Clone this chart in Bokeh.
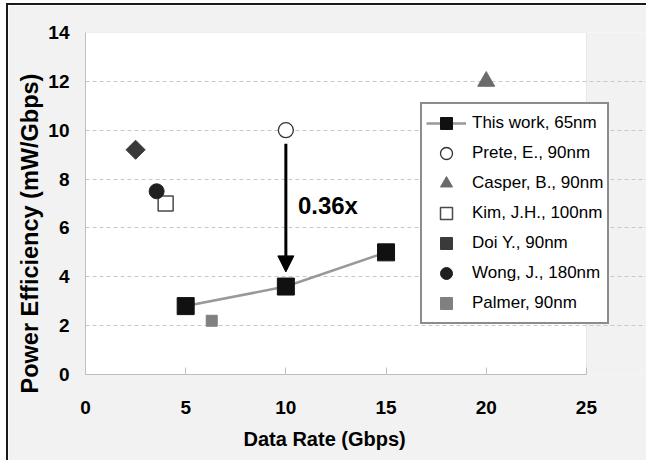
import math
from bokeh.plotting import figure
from bokeh.layouts import column
from bokeh.models import (Range1d, FixedTicker, Legend, LegendItem, Arrow, NormalHead,
                          BoxAnnotation, Label, Title)
from bokeh.embed import file_html
from bokeh.resources import INLINE

# ---- data ----
this_work_rate = [5, 10, 15]
this_work_eff = [2.8, 3.6, 5.0]
prete_rate = [10]
prete_eff = [10.0]
casper_rate = [20]
casper_eff = [12.0]
kim_rate = [4]
kim_eff = [7.0]
doi_rate = [2.5]
doi_eff = [9.2]
wong_rate = [3.55]
wong_eff = [7.5]
palmer_rate = [6.3]
palmer_eff = [2.2]

x_ticks = [0, 5, 10, 15, 20, 25]
y_ticks = [0, 2, 4, 6, 8, 10, 12, 14]
grid_ticks = [2, 4, 6, 8, 10, 12]

arrow_from = (10, 9.45)
arrow_to = (10, 4.2)
ratio_label = "0.36x"
x_title = "Data Rate (Gbps)"
y_title = "Power Efficiency (mW/Gbps)"

FONT = "Liberation Sans"
X_MAX, Y_MAX = 25, 14
X_FRAME_END = 28

# canvas origin on the page is (8, 5)
p = figure(width=638, height=455, output_backend="svg", toolbar_location=None,
           x_range=Range1d(0, X_FRAME_END), y_range=Range1d(0, Y_MAX),
           min_border_left=77, min_border_right=0, min_border_top=27, min_border_bottom=86,
           background_fill_color="#f2f2f2", border_fill_color="#f2f2f2")
p.outline_line_color = None

# axes
p.xaxis.ticker = FixedTicker(ticks=x_ticks)
p.yaxis.ticker = FixedTicker(ticks=y_ticks)
p.xaxis.bounds = (0, X_MAX)
for ax in (p.xaxis[0], p.yaxis[0]):
    ax.axis_line_color = "#bfbfbf"
    ax.major_label_text_font = FONT
    ax.major_label_text_font_style = "bold"
    ax.major_label_text_font_size = "19px"
    ax.major_label_text_color = "#000000"
    ax.minor_tick_line_color = None
p.xaxis.major_tick_in = 7
p.xaxis.major_tick_out = 0
p.xaxis.major_tick_line_color = "#bfbfbf"
p.xaxis.major_label_standoff = 26
p.yaxis.major_tick_line_color = None
p.yaxis.major_tick_in = 0
p.yaxis.major_tick_out = 0
p.yaxis.major_label_standoff = 16

# white plot area with light border (frame is extended to the right so the legend is not clipped)
p.add_layout(BoxAnnotation(left=0, right=X_MAX, bottom=0, top=Y_MAX, fill_color="white",
                           fill_alpha=1, line_color="#bfbfbf", line_width=1, level="image"))

p.xgrid.grid_line_color = None
p.ygrid.ticker = FixedTicker(ticks=grid_ticks)
p.ygrid.grid_line_color = "#c8c8c8"
p.ygrid.grid_line_dash = "4 3"
p.ygrid.grid_line_width = 1
p.ygrid.bounds = (0, X_MAX)

# axis titles
p.add_layout(Title(text=x_title, align="left", offset=158, standoff=18,
                   text_font=FONT, text_font_style="bold", text_font_size="20px",
                   text_color="black"), "below")
p.add_layout(Title(text=y_title, align="left", offset=-19, standoff=6,
                   text_font=FONT, text_font_style="bold", text_font_size="23.5px",
                   text_color="black"), "left")

# series
tw_line = p.line(this_work_rate, this_work_eff, line_color="#999999", line_width=2.5)
tw_pts = p.scatter(this_work_rate, this_work_eff, marker="square", size=17,
                   fill_color="#111111", line_color="#111111")
prete = p.scatter(prete_rate, prete_eff, marker="circle", size=15,
                  fill_color="white", line_color="#333333", line_width=1.3)
casper = p.scatter(casper_rate, casper_eff, marker="triangle", size=17,
                   fill_color="#6b6b6b", line_color="#6b6b6b")
kim = p.scatter(kim_rate, kim_eff, marker="square", size=15,
                fill_color="white", line_color="#4a4a4a", line_width=1.5)
doi = p.scatter(doi_rate, doi_eff, marker="square", size=13.5, angle=math.pi / 4,
                fill_color="#3a3a3a", line_color="#3a3a3a")
wong = p.scatter(wong_rate, wong_eff, marker="circle", size=15,
                 fill_color="#1f1f1f", line_color="#1f1f1f")
palmer = p.scatter(palmer_rate, palmer_eff, marker="square", size=11,
                   fill_color="#808080", line_color="#808080")

# arrow + label
p.add_layout(Arrow(x_start=arrow_from[0], y_start=arrow_from[1], x_end=arrow_to[0], y_end=arrow_to[1],
                   line_color="black", line_width=3,
                   end=NormalHead(size=16, fill_color="black", line_color="black")))
p.add_layout(Label(x=10.6, y=6.9, text=ratio_label, text_font=FONT, text_font_style="bold",
                   text_font_size="24px", text_baseline="middle", text_align="left",
                   text_color="black"))

legend = Legend(items=[
    LegendItem(label="This work, 65nm", renderers=[tw_line, tw_pts]),
    LegendItem(label="Prete, E., 90nm", renderers=[prete]),
    LegendItem(label="Casper, B., 90nm", renderers=[casper]),
    LegendItem(label="Kim, J.H., 100nm", renderers=[kim]),
    LegendItem(label="Doi Y., 90nm", renderers=[doi]),
    LegendItem(label="Wong, J., 180nm", renderers=[wong]),
    LegendItem(label="Palmer, 90nm", renderers=[palmer]),
], location=(335, 50))
legend.border_line_color = "#1a1a1a"
legend.border_line_width = 2
legend.background_fill_color = "white"
legend.background_fill_alpha = 1
legend.padding = 4
legend.spacing = 0
legend.glyph_height = 30
legend.label_height = 30
legend.glyph_width = 40
legend.label_standoff = 6
legend.label_text_font = FONT
legend.label_text_font_size = "17px"
legend.label_text_color = "#000000"
legend.margin = 0
p.add_layout(legend, "center")

page = column(p, styles={"position": "absolute", "left": "6px", "top": "3px",
                         "border-left": "2px solid #1a1a1a", "border-top": "2px solid #1a1a1a"})

open("out.html", "w").write(file_html(page, INLINE))
